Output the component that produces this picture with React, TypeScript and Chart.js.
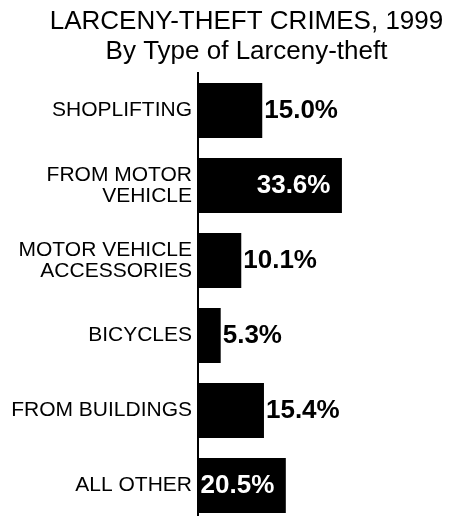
import React, { useEffect, useRef } from "react";
import { Chart, registerables } from "chart.js";

Chart.register(...registerables);

const titleText = "LARCENY-THEFT CRIMES, 1999";
const subtitleText = "By Type of Larceny-theft";
const categories: string[][] = [
  ["SHOPLIFTING"],
  ["FROM MOTOR", "VEHICLE"],
  ["MOTOR VEHICLE", "ACCESSORIES"],
  ["BICYCLES"],
  ["FROM BUILDINGS"],
  ["ALL OTHER"],
];
const shares = [15.0, 33.6, 10.1, 5.3, 15.4, 20.5];
const shareLabels = ["15.0%", "33.6%", "10.1%", "5.3%", "15.4%", "20.5%"];

const FONT = "'Liberation Sans', Arial, Helvetica, sans-serif";

const valueLabelPlugin = {
  id: "valueLabels",
  afterDatasetsDraw(chart: any) {
    const ctx = chart.ctx;
    const meta = chart.getDatasetMeta(0);
    ctx.save();
    ctx.font = `bold 26px ${FONT}`;
    ctx.textBaseline = "middle";
    meta.data.forEach((bar: any, i: number) => {
      const v = shares[i];
      const txt = shareLabels[i];
      if (v >= 20) {
        ctx.fillStyle = "#fff";
        ctx.textAlign = "right";
        ctx.fillText(txt, bar.x - 11.5, bar.y);
      } else {
        ctx.fillStyle = "#000";
        ctx.textAlign = "left";
        ctx.fillText(txt, bar.x + 2, bar.y);
      }
    });
    ctx.restore();
  },
};

export default function App() {
  const ref = useRef<HTMLCanvasElement>(null);
  useEffect(() => {
    if (!ref.current) return;
    Chart.defaults.font.family = FONT;
    const chart = new Chart(ref.current, {
      type: "bar",
      data: {
        labels: categories,
        datasets: [
          {
            data: shares,
            backgroundColor: "#000",
            borderWidth: 0,
            categoryPercentage: 0.733,
            barPercentage: 1,
          },
        ],
      },
      options: {
        indexAxis: "y",
        responsive: false,
        animation: false,
        layout: { padding: { top: -1.5, left: 0, right: 0, bottom: 0 } },
        plugins: {
          legend: { display: false },
          tooltip: { enabled: false },
          title: {
            display: true,
            text: titleText,
            color: "#000",
            font: { size: 26, weight: "normal", lineHeight: 1.15 },
            padding: { top: 0, bottom: 0 },
          },
          subtitle: {
            display: true,
            text: subtitleText,
            color: "#000",
            font: { size: 26, weight: "normal", lineHeight: 1.15 },
            padding: { top: 0, bottom: 6.7 },
          },
        },
        scales: {
          x: { display: false, min: 0, max: 67 },
          y: {
            grid: { display: false, drawTicks: false },
            border: { display: true, color: "#000", width: 2 },
            ticks: {
              color: "#000",
              padding: 6,
              font: { size: 21, lineHeight: 0.98 },
            },
            afterFit: (s: any) => {
              s.width = 190;
              s.paddingTop = 0;
              s.paddingBottom = 0;
            },
          },
        },
      },
      plugins: [valueLabelPlugin],
    } as any);
    return () => chart.destroy();
  }, []);
  return (
    <div
      style={{
        position: "absolute",
        top: 8,
        left: 8,
        width: 443,
        height: 508,
        overflow: "hidden",
      }}
    >
      <canvas ref={ref} width={477} height={515} style={{ display: "block" }} />
    </div>
  );
}
